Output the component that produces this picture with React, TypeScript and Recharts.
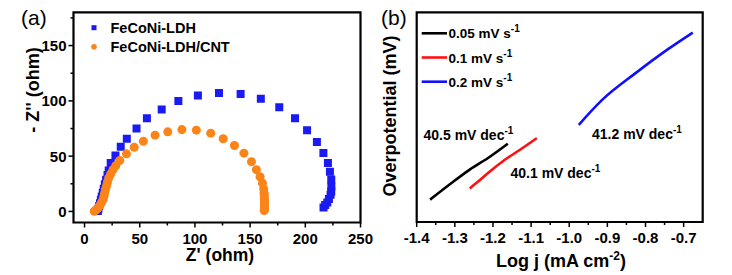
import React from 'react';
import { ScatterChart, Scatter, LineChart, Line, XAxis, YAxis, ZAxis } from 'recharts';

const FONT = '"Liberation Sans", Arial, Helvetica, sans-serif';

// (a) Nyquist plot: Z' (ohm) vs -Z'' (ohm)
const ldhPoints = [
  [12, 0.5], [12.6, 2.5], [13.3, 5], [14, 7.5], [14.8, 10.5], [15.6, 13.5], [16.5, 17], [17.4, 20.5],
  [18.4, 24.5], [19.5, 28.6], [20.8, 33], [21.9, 37], [23.7, 43.7], [28, 50.6], [32.8, 58.5], [38.3, 65.8],
  [47.1, 75.1], [56.5, 84.2], [69.9, 92.3], [85, 99.8], [102.7, 104.9], [121.8, 107.2], [141.4, 106.1],
  [159.7, 101.8], [176.4, 94.3], [190.7, 84.3], [201.6, 73.5], [210.5, 62.7], [216.4, 52.8], [220.5, 43.9],
  [222.3, 36], [223.5, 28.8], [223.6, 22.6], [223.5, 18], [222.9, 15], [221.4, 11.2], [219.9, 8.1],
  [218, 5.8], [216.5, 3.6],
];
const ldhCntPoints = [
  [8.8, 0.2], [10.7, 1.5], [12.2, 3], [13.7, 5.1], [15.2, 7.6], [16.7, 10.6], [17.6, 13.6], [18.2, 16.6],
  [18.9, 19.6], [19.8, 22.6], [20.7, 26.2], [21.9, 30.2], [23.7, 33.8], [25.8, 37.7], [28.3, 41.3],
  [31.9, 46.1], [38, 52.1], [45, 58], [53.3, 63.4], [63.9, 69], [75.4, 72], [88.2, 74], [101.3, 73.5],
  [114.3, 70.8], [125.6, 65.7], [135.8, 59.6], [144.4, 52.7], [151.2, 45], [155.7, 37.8], [159, 31.4],
  [161.2, 25.6], [162.3, 20.4], [162.6, 17], [162.8, 14.5], [162.9, 12], [163, 9.8], [163.1, 7.8],
  [163.1, 6], [163, 4.4], [163, 3], [162.9, 1.8], [162.8, 0.8],
];
const nyquistTicksX = [0, 25, 50, 75, 100, 125, 150, 175, 200, 225, 250];
const nyquistTicksY = [0, 25, 50, 75, 100, 125, 150, 175];

// (b) Tafel plot: log j (mA cm-2) vs overpotential (mV)
const tafel005 = [[-1.365, 233.2], [-1.313, 235.4], [-1.261, 237.5], [-1.209, 239.3], [-1.161, 241.2]];
const tafel01 = [[-1.261, 234.8], [-1.243, 235.6], [-1.209, 237.2], [-1.174, 238.7], [-1.13, 240.3], [-1.085, 242]];
const tafel02 = [[-0.975, 243.9], [-0.913, 247.5], [-0.826, 251.3], [-0.739, 254.8], [-0.676, 257.1]];
const tafelTicksX = [-1.4, -1.35, -1.3, -1.25, -1.2, -1.15, -1.1, -1.05, -1.0, -0.95, -0.9, -0.85, -0.8, -0.75, -0.7];

const toXY = (pts: number[][]) => pts.map(([x, y]) => ({ x, y }));

const nyquistSeries = [
  { name: 'FeCoNi-LDH', data: toXY(ldhPoints), color: '#1a1af2', shape: 'square' },
  { name: 'FeCoNi-LDH/CNT', data: toXY(ldhCntPoints), color: '#fb8419', shape: 'circle' },
];
const tafelSeries = [
  { rate: '0.05', data: toXY(tafel005), color: '#000000' },
  { rate: '0.1', data: toXY(tafel01), color: '#ff1010' },
  { rate: '0.2', data: toXY(tafel02), color: '#1010ff' },
];

// chart boxes (page px); the frames are derived from the same margins
const A = { left: 0, width: 382, height: 275, margin: { top: 12.4, right: 21.5, bottom: 22.5, left: 13.5 }, yAxisW: 60, xAxisH: 30 };
const B = { left: 370, width: 362, height: 275, margin: { top: 12.3, right: 29.3, bottom: 23, left: 36.7 }, yAxisW: 10, xAxisH: 30 };
const frameOf = (c: typeof A) => {
  const x0 = c.left + c.margin.left + c.yAxisW;
  const y0 = c.margin.top;
  const x1 = c.left + c.width - c.margin.right;
  const y1 = c.height - c.margin.bottom - c.xAxisH;
  return `M${x0},${y0}H${x1}V${y1}H${x0}Z`;
};

const bottomTick = (isMajor: (v: number) => boolean, fmt: (v: number) => string) => (props: any) => {
  const { x, y, payload } = props;
  const major = isMajor(payload.value);
  return (
    <g>
      <line x1={x} x2={x} y1={y} y2={y + (major ? 5 : 3)} stroke="#000" strokeWidth={1.5} />
      {major && (
        <text x={x} y={y + 21} textAnchor="middle" fontFamily={FONT} fontWeight="bold" fontSize={15} fill="#000">
          {fmt(payload.value)}
        </text>
      )}
    </g>
  );
};

const leftTick = (props: any) => {
  const { x, y, payload } = props;
  const major = payload.value % 50 === 0;
  return (
    <g>
      <line x1={x} x2={x - (major ? 5 : 3)} y1={y} y2={y} stroke="#000" strokeWidth={1.5} />
      {major && (
        <text x={x - 7} y={y + 5.5} textAnchor="end" fontFamily={FONT} fontWeight="bold" fontSize={15} fill="#000">
          {payload.value}
        </text>
      )}
    </g>
  );
};

const isTenth = (v: number) => Math.abs(v * 10 - Math.round(v * 10)) < 1e-6;

const NyquistPanel = () => (
  <ScatterChart width={A.width} height={A.height} margin={A.margin}>
    <XAxis
      type="number"
      dataKey="x"
      domain={[-10, 250]}
      ticks={nyquistTicksX}
      interval={0}
      axisLine={false}
      tickLine={false}
      tickSize={0}
      tickMargin={0}
      height={A.xAxisH}
      allowDataOverflow
      tick={bottomTick((v) => v % 50 === 0, (v) => String(v))}
    />
    <YAxis
      type="number"
      dataKey="y"
      domain={[-10, 180]}
      ticks={nyquistTicksY}
      interval={0}
      axisLine={false}
      tickLine={false}
      tickSize={0}
      tickMargin={0}
      width={A.yAxisW}
      allowDataOverflow
      tick={leftTick}
    />
    <ZAxis range={[22, 22]} />
    {nyquistSeries.map((s) => (
      <Scatter key={s.name} name={s.name} data={s.data} fill={s.color} shape={s.shape as any} isAnimationActive={false} />
    ))}
  </ScatterChart>
);

const TafelPanel = () => (
  <LineChart width={B.width} height={B.height} margin={B.margin}>
    <XAxis
      type="number"
      dataKey="x"
      domain={[-1.4, -0.65]}
      ticks={tafelTicksX}
      interval={0}
      axisLine={false}
      tickLine={false}
      tickSize={0}
      tickMargin={0}
      height={B.xAxisH}
      allowDataOverflow
      tick={bottomTick(isTenth, (v) => v.toFixed(1))}
    />
    <YAxis type="number" dataKey="y" domain={[230, 260]} tick={false} axisLine={false} tickLine={false} width={B.yAxisW} allowDataOverflow />
    {tafelSeries.map((s) => (
      <Line
        key={s.rate}
        data={s.data}
        dataKey="y"
        type="monotone"
        stroke={s.color}
        strokeWidth={2.6}
        dot={false}
        isAnimationActive={false}
      />
    ))}
  </LineChart>
);

const txt = { fontFamily: FONT, fontWeight: 'bold' as const, fill: '#000' };

export default function App() {
  return (
    <div style={{ position: 'absolute', left: 0, top: 0, width: 732, height: 275, background: '#fff' }}>
      <div style={{ position: 'absolute', left: A.left, top: 0 }}>
        <NyquistPanel />
      </div>
      <div style={{ position: 'absolute', left: B.left, top: 0 }}>
        <TafelPanel />
      </div>
      <svg width={732} height={275} style={{ position: 'absolute', left: 0, top: 0, pointerEvents: 'none' }}>
        <path d={frameOf(A)} fill="none" stroke="#000" strokeWidth={2.2} />
        <path d={frameOf(B)} fill="none" stroke="#000" strokeWidth={2.2} />

        <text x={21} y={24.5} fontFamily={FONT} fontSize={21} fill="#000">(a)</text>
        <text x={381} y={24.5} fontFamily={FONT} fontSize={21} fill="#000">(b)</text>

        {/* legend (a) */}
        {nyquistSeries.map((s, i) => {
          const cy = 27.7 + i * 19;
          return (
            <g key={s.name}>
              {s.shape === 'square' ? (
                <rect x={91.5} y={cy - 2.5} width={5} height={5} fill={s.color} />
              ) : (
                <circle cx={94} cy={cy} r={2.8} fill={s.color} />
              )}
              <text x={110.5} y={cy + 5.2} fontSize={14.5} {...txt}>{s.name}</text>
            </g>
          );
        })}

        <text x={33} y={90} fontSize={18} textAnchor="middle" dominantBaseline="central" transform="rotate(-90 33 90)" {...txt}>
          - Z'' (ohm)
        </text>
        <text x={220} y={261} fontSize={17.5} textAnchor="middle" {...txt}>Z' (ohm)</text>

        {/* legend (b) */}
        {tafelSeries.map((s, i) => {
          const cy = 33.3 + i * 24.2;
          return (
            <g key={s.rate}>
              <line x1={421.7} x2={447} y1={cy} y2={cy} stroke={s.color} strokeWidth={2.6} />
              <text x={448.5} y={cy + 5} fontSize={13.5} {...txt}>
                {s.rate} mV s<tspan dy={-6} fontSize={10}>-1</tspan>
              </text>
            </g>
          );
        })}

        <text x={423.5} y={140} fontSize={14} {...txt}>
          40.5 mV dec<tspan dy={-6} fontSize={10}>-1</tspan>
        </text>
        <text x={510.5} y={178} fontSize={14} {...txt}>
          40.1 mV dec<tspan dy={-6} fontSize={10}>-1</tspan>
        </text>
        <text x={592} y={139} fontSize={14} {...txt}>
          41.2 mV dec<tspan dy={-6} fontSize={10}>-1</tspan>
        </text>

        <text x={390} y={116} fontSize={18} textAnchor="middle" dominantBaseline="central" transform="rotate(-90 390 116)" {...txt}>
          Overpotential (mV)
        </text>
        <text x={561} y={266.5} fontSize={18} textAnchor="middle" {...txt}>
          Log j (mA cm<tspan dy={-7} fontSize={12}>-2</tspan><tspan dy={7}>)</tspan>
        </text>
      </svg>
    </div>
  );
}
